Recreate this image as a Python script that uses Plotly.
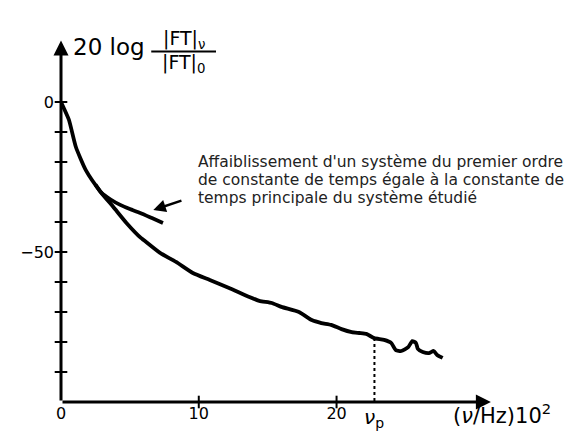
import plotly.graph_objects as go

# Measured response (x in units of 100 Hz, y in dB)
freq_main = [0.0, 0.2, 0.58, 1.08, 1.8, 2.88, 3.8, 4.75, 5.8, 6.0, 7.19, 8.35, 9.57, 10.8,
             12.2, 13.67, 14.4, 15.3, 16.0, 17.27, 18.2, 18.9, 19.6, 20.36, 21.1, 21.65,
             22.16, 22.73, 23.45, 23.96, 24.3, 24.7, 25.2, 25.5, 25.76, 25.9, 26.26, 26.7,
             27.05, 27.3, 27.7]
db_main = [0.0, -2.0, -6.0, -15.0, -22.7, -30.0, -35.0, -40.3, -45.3, -46.0, -50.3, -53.3,
           -57.0, -59.3, -62.0, -65.0, -66.3, -67.0, -68.3, -70.0, -72.7, -73.7, -74.3,
           -75.7, -76.7, -77.0, -77.3, -78.7, -79.3, -80.3, -82.7, -83.0, -81.7, -79.7,
           -80.3, -82.3, -83.3, -83.7, -83.0, -84.3, -85.3]

# First-order system attenuation
freq_first = [2.5, 2.88, 3.6, 4.3, 5.0, 5.75, 6.6, 7.4]
db_first = [-27.5, -30.0, -32.5, -34.3, -35.7, -37.0, -38.7, -40.3]

nu_p = 22.75
nu_p_db = -78.7

x_ticks = [0, 10, 20]
x_ticklabels = ["0", "10", "20"]
y_ticks = [0, -50]
y_ticklabels = ["0", "\u221250"]
y_minor = [0, -10, -20, -30, -40, -50, -60, -70, -80, -90]

X_MIN, X_MAX = 0, 31.5
Y_MIN, Y_MAX = -100, 21

fig = go.Figure()

fig.add_trace(go.Scatter(x=freq_main, y=db_main, mode="lines",
                         line=dict(color="black", width=3.8, shape="spline", smoothing=0.5),
                         hoverinfo="skip", showlegend=False))
fig.add_trace(go.Scatter(x=freq_first, y=db_first, mode="lines",
                         line=dict(color="black", width=3.8, shape="spline", smoothing=0.5),
                         hoverinfo="skip", showlegend=False))
fig.add_trace(go.Scatter(x=[nu_p, nu_p], y=[nu_p_db, Y_MIN], mode="lines",
                         line=dict(color="black", width=2, dash="dot"),
                         hoverinfo="skip", showlegend=False))
# tick marks crossing the axes
fig.add_trace(go.Scatter(x=[0] * len(y_minor), y=y_minor, mode="markers",
                         marker=dict(symbol="line-ew", size=9, line=dict(color="black", width=2)),
                         hoverinfo="skip", showlegend=False, cliponaxis=False))
fig.add_trace(go.Scatter(x=[10, 20], y=[Y_MIN, Y_MIN], mode="markers",
                         marker=dict(symbol="line-ns", size=9, line=dict(color="black", width=2)),
                         hoverinfo="skip", showlegend=False, cliponaxis=False))

FRAC_X = 8.9
note_font = dict(family="DejaVu Sans", size=15.5, color="#222")

annotations = [
    # y axis with arrow
    dict(x=0, y=Y_MAX - 0.5, ax=0, ay=Y_MIN, xref="x", yref="y", axref="x", ayref="y",
         showarrow=True, arrowhead=2, arrowsize=1, arrowwidth=3, arrowcolor="black", text=""),
    # x axis with arrow
    dict(x=31.2, y=Y_MIN, ax=0, ay=Y_MIN, xref="x", yref="y", axref="x", ayref="y",
         showarrow=True, arrowhead=2, arrowsize=1, arrowwidth=3, arrowcolor="black", text=""),
    # pointer arrow
    dict(x=6.7, y=-36, ax=8.85, ay=-32.7, xref="x", yref="y", axref="x", ayref="y",
         showarrow=True, arrowhead=2, arrowsize=1, arrowwidth=2.5, arrowcolor="black", text=""),
    dict(x=0.75, y=18.3, xref="x", yref="y", text="20 log", showarrow=False,
         xanchor="left", yanchor="middle", font=dict(family="DejaVu Sans", size=23, color="black")),
    dict(x=FRAC_X, y=20.8, xref="x", yref="y", text="|FT|<sub>ν</sub>", showarrow=False,
         xanchor="center", yanchor="middle", font=dict(family="DejaVu Sans", size=19, color="black")),
    dict(x=FRAC_X, y=13.0, xref="x", yref="y", text="|FT|<sub>0</sub>", showarrow=False,
         xanchor="center", yanchor="middle", font=dict(family="DejaVu Sans", size=19, color="black")),
    dict(x=9.8, y=-20.0, xref="x", yref="y", text="Affaiblissement d'un système du premier ordre",
         showarrow=False, xanchor="left", yanchor="middle", font=note_font),
    dict(x=9.8, y=-26.0, xref="x", yref="y", text="de constante de temps égale à la constante de",
         showarrow=False, xanchor="left", yanchor="middle", font=note_font),
    dict(x=9.8, y=-32.0, xref="x", yref="y", text="temps principale du système étudié",
         showarrow=False, xanchor="left", yanchor="middle", font=note_font),
    dict(x=nu_p, y=Y_MIN, xref="x", yref="y", text="<i>ν</i><sub>p</sub>", showarrow=False,
         xanchor="center", yanchor="top", yshift=-1,
         font=dict(family="DejaVu Sans", size=20, color="black")),
    dict(x=28.3, y=Y_MIN, xref="x", yref="y", text="(<i>ν</i>/Hz)10<sup>2</sup>", showarrow=False,
         xanchor="left", yanchor="top", yshift=4,
         font=dict(family="DejaVu Sans", size=21, color="black")),
]

shapes = [
    dict(type="line", xref="x", yref="y", x0=FRAC_X - 2.35, x1=FRAC_X + 2.35, y0=16.8, y1=16.8,
         line=dict(color="black", width=2)),
]

fig.update_layout(
    width=571, height=428,
    margin=dict(l=49, r=84, t=31, b=34),
    paper_bgcolor="white", plot_bgcolor="white",
    showlegend=False,
    annotations=annotations,
    shapes=shapes,
    xaxis=dict(range=[X_MIN, X_MAX], showgrid=False, zeroline=False, showline=False,
               tickvals=x_ticks, ticktext=x_ticklabels, ticks="",
               tickfont=dict(family="DejaVu Sans", size=16, color="black")),
    yaxis=dict(range=[Y_MIN, Y_MAX], showgrid=False, zeroline=False, showline=False,
               tickvals=y_ticks, ticktext=y_ticklabels, ticks="", ticklabelstandoff=6,
               tickfont=dict(family="DejaVu Sans", size=16, color="black")),
)

fig.write_html("out.html")
